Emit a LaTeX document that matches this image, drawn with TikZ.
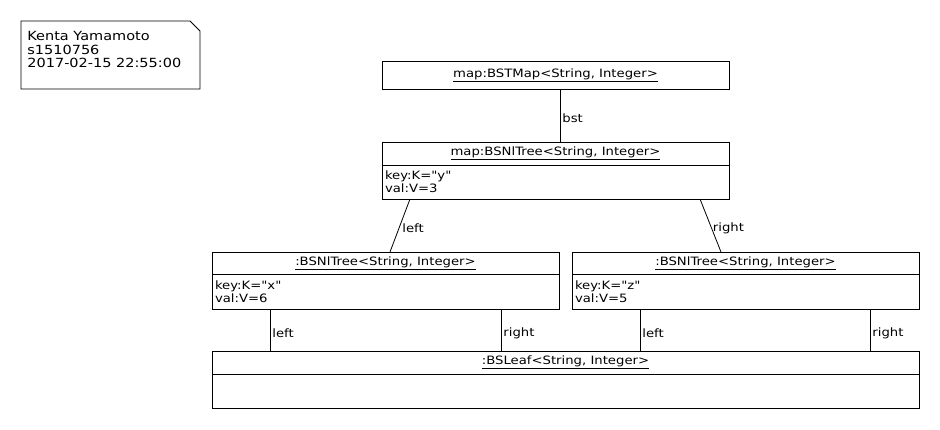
\documentclass[tikz,border=0pt]{standalone}
\usepackage{fontspec}
\newfontfamily\umlfont{DejaVu Sans}[FakeStretch=1.15]
\usepackage{tikz}

\begin{document}
\begin{tikzpicture}[x=1pt, y=-1pt, line width=0.8pt,
    font=\umlfont\fontsize{11.5}{13}\selectfont,
    hdr/.style = {draw, minimum width=#1, minimum height=23pt, inner sep=0pt, outer sep=0pt, anchor=north west},
    attr/.style = {draw, text width=#1, minimum height=34pt, inner sep=3pt, outer sep=0pt, anchor=north west, align=left},
    lbl/.style = {right, inner sep=2pt, yshift=-3pt}]
    \useasboundingbox (0,0) rectangle (940,430);

    % note
    \node[anchor=north west, align=left, inner sep=0pt, font=\umlfont\fontsize{12.6}{13.5}\selectfont] (note) at (27,31) {Kenta Yamamoto\\s1510756\\2017-02-15 22:55:00};
    \draw (21,21) -- (190,21) -- (200,31) -- (200,89) -- (21,89) -- cycle;

    \node[hdr=347pt, minimum height=28pt] (map) at (382,61) {\underline{map:BSTMap<String, Integer>}};
    \node[hdr=347pt] (yh) at (382,142) {\underline{map:BSNlTree<String, Integer>}};
    \node[attr=341pt] (yv) at (yh.south west) {key:K="y"\\val:V=3};

    \node[hdr=347pt, minimum height=22pt] (xh) at (212,252) {\underline{:BSNlTree<String, Integer>}};
    \node[attr=341pt, minimum height=35pt] (xv) at (xh.south west) {key:K="x"\\val:V=6};
    \node[hdr=347pt, minimum height=22pt] (zh) at (572,252) {\underline{:BSNlTree<String, Integer>}};
    \node[attr=341pt, minimum height=35pt] (zv) at (zh.south west) {key:K="z"\\val:V=5};

    \node[hdr=707pt] (leaf) at (212,351) {\underline{:BSLeaf<String, Integer>}};
    \node[attr=701pt] (leafv) at (leaf.south west) {};

\draw ([xshift=178]map.south west) -- ([xshift=178]yh.north west) node[midway, lbl] {bst};
\draw ([xshift=28]yv.south west) -- ([xshift=178]xh.north west) node[midway, lbl] {left};
\draw ([xshift=318]yv.south west) -- ([xshift=149]zh.north west) node[midway, lbl] {right};
\draw ([xshift=58]xv.south west) coordinate (a) -- (a |- leaf.north) node[midway, lbl] {left};
\draw ([xshift=289]xv.south west) coordinate (b) -- (b |- leaf.north) node[midway, lbl] {right};
\draw ([xshift=68]zv.south west) coordinate (c) -- (c |- leaf.north) node[midway, lbl] {left};
\draw ([xshift=298]zv.south west) coordinate (d) -- (d |- leaf.north) node[midway, lbl] {right};
\end{tikzpicture}
\end{document}
